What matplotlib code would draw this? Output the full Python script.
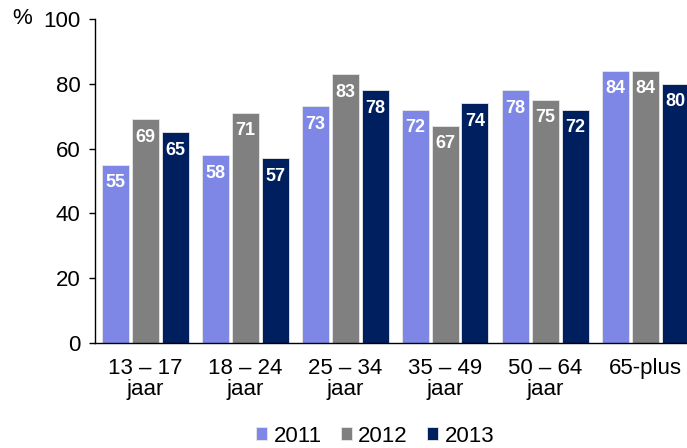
import matplotlib.pyplot as plt
import numpy as np

plt.rcParams['font.family'] = ['Liberation Sans', 'DejaVu Sans']

groepen = ['13 – 17\njaar', '18 – 24\njaar', '25 – 34\njaar', '35 – 49\njaar', '50 – 64\njaar', '65-plus']
jaren = ['2011', '2012', '2013']
w2011 = [55, 58, 73, 72, 78, 84]
w2012 = [69, 71, 83, 67, 75, 84]
w2013 = [65, 57, 78, 74, 72, 80]
kleuren = ['#7F87E6', '#808080', '#001F5F']

fig = plt.figure(figsize=(6.87, 4.48), dpi=100)
ax = fig.add_axes([95/687, 105/448, 1 - 95/687, (343 - 19)/448])

x = np.arange(len(groepen))
breedte = 0.27
for i, (reeks, kleur, jaar) in enumerate(zip([w2011, w2012, w2013], kleuren, jaren)):
    balken = ax.bar(x + (i - 1) * 0.3, reeks, breedte, color=kleur, label=jaar,
                    edgecolor='#e8e8e8', linewidth=0.6)
    for b, v in zip(balken, reeks):
        ax.annotate(str(v), (b.get_x() + b.get_width() / 2, v), xytext=(0, -18),
                    textcoords='offset pixels',
                    ha='center', va='center', color='white', fontsize=13, fontweight='bold')

ax.set_xlim(-0.5, 5.42)
ax.set_ylim(0, 100)
ax.set_yticks([0, 20, 40, 60, 80, 100])
ax.set_yticklabels(['0', '20', '40', '60', '80', '100'], fontsize=16)
ax.set_xticks(x)
ax.set_xticklabels(groepen, fontsize=16, va='top', linespacing=1.0)
ax.tick_params(axis='x', length=0, pad=11)
ax.tick_params(axis='y', length=4.5, width=1, pad=6)
for s in ['top', 'right']:
    ax.spines[s].set_visible(False)
ax.spines['left'].set_linewidth(1)
ax.spines['bottom'].set_linewidth(1)
fig.text(22/687, 1 - 19/448, '%', fontsize=16, ha='center', va='center')

ax.legend(loc='center', bbox_to_anchor=(375/687, 1 - 436/448), bbox_transform=fig.transFigure,
          ncol=3, frameon=False, fontsize=16, handlelength=0.5, handleheight=0.5,
          handletextpad=0.3, columnspacing=0.85, borderpad=0)

fig.savefig('out.png', dpi=100)
